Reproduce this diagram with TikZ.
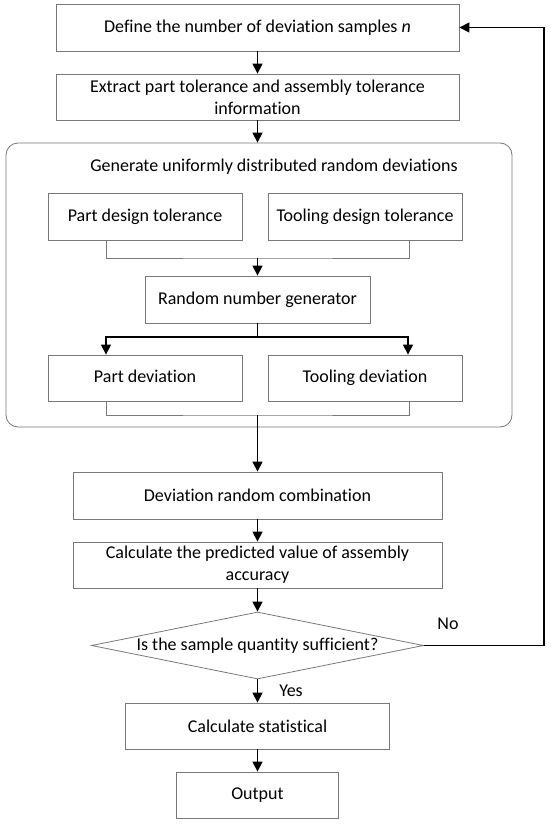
\documentclass[tikz,border=0pt]{standalone}
\usepackage{fontspec}
\setmainfont{Carlito}[Ligatures=NoCommon]
\usetikzlibrary{arrows.meta,shapes.geometric}

\definecolor{boxgrey}{RGB}{120,120,120}

\tikzset{
  box/.style={draw=boxgrey, line width=0.8pt, align=center, minimum height=47pt, inner sep=2pt},
  frame/.style={draw=boxgrey, line width=0.8pt, rounded corners=12pt},
  decide/.style={draw=boxgrey, line width=0.8pt, shape=diamond, aspect=5, inner sep=0pt, minimum width=332pt, minimum height=67pt},
  flow/.style={draw=black, line width=1.3pt, -{Triangle[length=10pt,width=10pt]}},
  tie/.style={draw=boxgrey, line width=0.8pt},
}

\begin{document}
\begin{tikzpicture}[x=1pt, y=-1pt, font=\fontsize{18}{22}\selectfont]

\useasboundingbox (0,0) rectangle (550,824);

\node[box, minimum width=403pt] (define) at (257.5,27.5) {Define the number of deviation samples \textit{n}};
\node[box, minimum width=403pt, minimum height=46pt] (extract) at (257.5,97) {Extract part tolerance and assembly tolerance\\information};

\node[frame, minimum width=506pt, minimum height=284pt] (gen) at (259,285) {};
\node (title) at (274,167) {Generate uniformly distributed random deviations};

\node[box, minimum width=194pt] (pdt) at (145,216.5) {Part design tolerance};
\node[box, minimum width=194pt] (tdt) at (365,216.5) {Tooling design tolerance};
\node[box, minimum width=225pt] (rng) at (257.5,299.5) {Random number generator};
\node[box, minimum width=194pt, minimum height=46pt] (pd) at (145,378) {\strut Part deviation};
\node[box, minimum width=194pt, minimum height=46pt] (td) at (365,378) {\strut Tooling deviation};

\node[box, minimum width=369pt] (combo) at (257.5,495.5) {Deviation random combination};
\node[box, minimum width=369pt, minimum height=46pt] (calc) at (257.5,565) {Calculate the predicted value of assembly\\accuracy};
\node[decide] (cond) at (257.5,645.5) {Is the sample quantity sufficient?};
\node[box, minimum width=264pt, minimum height=46pt] (stat) at (257.5,726) {Calculate statistical};
\node[box, minimum width=162pt, minimum height=46pt] (out) at (257.5,795) {Output};

\node (no) at (448,624) {No};
\node (yes) at (291,691) {Yes};

\coordinate (join1) at (257.5,258);
\coordinate (split) at (257.5,337);
\coordinate (join2) at (257.5,415);
\coordinate (back) at (544,645.5);

\draw[flow] (define) -- (extract);
\draw[flow] (extract.south) -- (extract.south |- gen.north);

\draw[tie] ([xshift=-39pt]pdt.south) |- (join1) -| ([xshift=44pt]tdt.south);
\draw[flow] (join1) -- (rng.north);

\draw[flow] (rng.south) -- (split) -| ([xshift=-39pt]pd.north);
\draw[flow] (split) -| ([xshift=43pt]td.north);

\draw[tie] ([xshift=-39pt]pd.south) |- (join2) -| ([xshift=44pt]td.south);
\draw[flow] (join2) -- (combo.north);

\draw[flow] (combo) -- (calc);
\draw[flow] (calc) -- (cond);
\draw[flow] (cond) -- (stat);
\draw[flow] (stat) -- (out);

\draw[flow] (cond.east) -- (back) |- (define.east);

\end{tikzpicture}
\end{document}
